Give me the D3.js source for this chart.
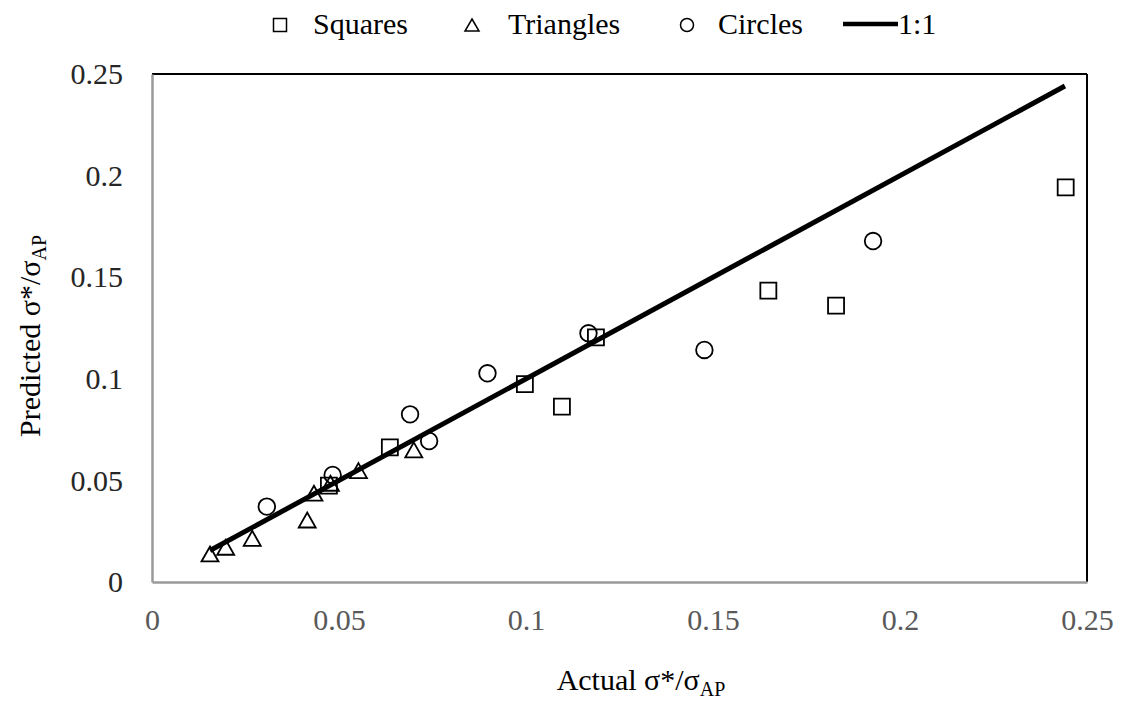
<!DOCTYPE html>
<html>
<head>
<meta charset="utf-8">
<script src="https://cdn.jsdelivr.net/npm/d3@7"></script>
<style>
  html, body { margin: 0; padding: 0; background: #fff; }
  svg { display: block; font-family: "Liberation Serif", "Times New Roman", serif; }
</style>
</head>
<body>
<svg id="chart" width="1125" height="702"></svg>
<script>
// Actual vs predicted σ*/σAP for three specimen geometries
const squaresActual    = [0.2443, 0.1648, 0.1829, 0.1187, 0.0997, 0.1096, 0.0636, 0.0473];
const squaresPredicted = [0.1942, 0.1434, 0.1360, 0.1204, 0.0974, 0.0863, 0.0663, 0.0474];

const trianglesActual    = [0.0700, 0.0552, 0.0477, 0.0433, 0.0415, 0.0268, 0.0197, 0.0155];
const trianglesPredicted = [0.0650, 0.0548, 0.0486, 0.0437, 0.0305, 0.0215, 0.0171, 0.0138];

const circlesActual    = [0.1928, 0.1477, 0.1167, 0.0897, 0.0690, 0.0741, 0.0483, 0.0307];
const circlesPredicted = [0.1678, 0.1142, 0.1224, 0.1027, 0.0825, 0.0694, 0.0527, 0.0371];

// 1:1 reference line spans the range of the data
const oneToOne = [0.0155, 0.2441];

const tickValues = [0, 0.05, 0.1, 0.15, 0.2, 0.25];
const tickLabels = ["0", "0.05", "0.1", "0.15", "0.2", "0.25"];
const legendLabels = ["Squares", "Triangles", "Circles", "1:1"];

const svg = d3.select("#chart");
const plot = { left: 152, right: 1087, top: 74, bottom: 582 };

const x = d3.scaleLinear().domain([0, 0.25]).range([plot.left, plot.right]);
const y = d3.scaleLinear().domain([0, 0.25]).range([plot.bottom, plot.top]);

// frame: gray axis lines on left/bottom, black border on top/right
svg.append("line").attr("x1", plot.left).attr("x2", plot.right).attr("y1", plot.top).attr("y2", plot.top)
  .attr("stroke", "#000").attr("stroke-width", 2);
svg.append("line").attr("x1", plot.right).attr("x2", plot.right).attr("y1", plot.top).attr("y2", plot.bottom)
  .attr("stroke", "#000").attr("stroke-width", 2);

// axes (labels only, no tick marks)
const xAxis = d3.axisBottom(x).tickValues(tickValues).tickSize(0).tickPadding(0)
  .tickFormat((d, i) => tickLabels[i]);
const gx = svg.append("g").attr("transform", `translate(0,${plot.bottom})`).call(xAxis);
gx.select(".domain").attr("stroke", "#9a9a9a").attr("stroke-width", 2.5);
gx.selectAll("text").attr("font-family", "Liberation Serif").attr("font-size", 30)
  .attr("fill", "#595959").attr("dy", null).attr("y", 48);

const yAxis = d3.axisLeft(y).tickValues(tickValues).tickSize(0).tickPadding(0)
  .tickFormat((d, i) => tickLabels[i]);
const gy = svg.append("g").attr("transform", `translate(${plot.left},0)`).call(yAxis);
gy.select(".domain").attr("stroke", "#9a9a9a").attr("stroke-width", 2.5);
gy.selectAll("text").attr("font-family", "Liberation Serif").attr("font-size", 30)
  .attr("fill", "#262626").attr("x", -29).attr("dy", "0.32em");

// axis titles with subscripts
const xTitle = svg.append("text").attr("x", 641).attr("y", 690)
  .attr("text-anchor", "middle").attr("font-size", 30).attr("fill", "#000");
xTitle.append("tspan").text("Actual σ*/σ");
xTitle.append("tspan").text("AP").attr("font-size", 20).attr("dy", 6);

const yTitle = svg.append("text")
  .attr("transform", `translate(40,336) rotate(-90)`)
  .attr("text-anchor", "middle").attr("font-size", 30).attr("fill", "#000");
yTitle.append("tspan").text("Predicted σ*/σ");
yTitle.append("tspan").text("AP").attr("font-size", 20).attr("dy", 6);

// 1:1 line
const line = d3.line().x(d => x(d)).y(d => y(d));
svg.append("path").datum(oneToOne).attr("d", line)
  .attr("fill", "none").attr("stroke", "#000").attr("stroke-width", 5);

// marker path builders
function squarePath(s) {
  const h = s / 2;
  return `M${-h},${-h}H${h}V${h}H${-h}Z`;
}
function trianglePath(w, hgt) {
  return `M0,${-hgt / 2}L${w / 2},${hgt / 2}L${-w / 2},${hgt / 2}Z`;
}
function circlePath(r) {
  return d3.arc()({ innerRadius: 0, outerRadius: r, startAngle: 0, endAngle: 2 * Math.PI });
}

function drawSeries(xs, ys, pathStr) {
  svg.append("g").selectAll("path").data(xs.map((v, i) => [v, ys[i]])).join("path")
    .attr("d", pathStr)
    .attr("transform", d => `translate(${x(d[0])},${y(d[1])})`)
    .attr("fill", "none").attr("stroke", "#000").attr("stroke-width", 1.8);
}

drawSeries(squaresActual, squaresPredicted, squarePath(16));
drawSeries(trianglesActual, trianglesPredicted, trianglePath(17, 15));
drawSeries(circlesActual, circlesPredicted, circlePath(8.3));

// legend
const legendY = 24;
const legend = svg.append("g");
const legendItems = [
  { mx: 280, tx: 313, shape: squarePath(13) },
  { mx: 472, tx: 508, shape: trianglePath(14, 12) },
  { mx: 687, tx: 718, shape: circlePath(6.5) }
];
legendItems.forEach((it, i) => {
  legend.append("path").attr("d", it.shape)
    .attr("transform", `translate(${it.mx},${legendY + 1})`)
    .attr("fill", "none").attr("stroke", "#000").attr("stroke-width", 1.5);
  legend.append("text").attr("x", it.tx).attr("y", legendY).attr("dy", "0.32em")
    .attr("font-size", 30).attr("fill", "#000").text(legendLabels[i]);
});
legend.append("line").attr("x1", 843).attr("x2", 898).attr("y1", legendY).attr("y2", legendY)
  .attr("stroke", "#000").attr("stroke-width", 4.5);
legend.append("text").attr("x", 898).attr("y", legendY).attr("dy", "0.32em")
  .attr("font-size", 30).attr("fill", "#000").text(legendLabels[3]);
</script>
</body>
</html>
